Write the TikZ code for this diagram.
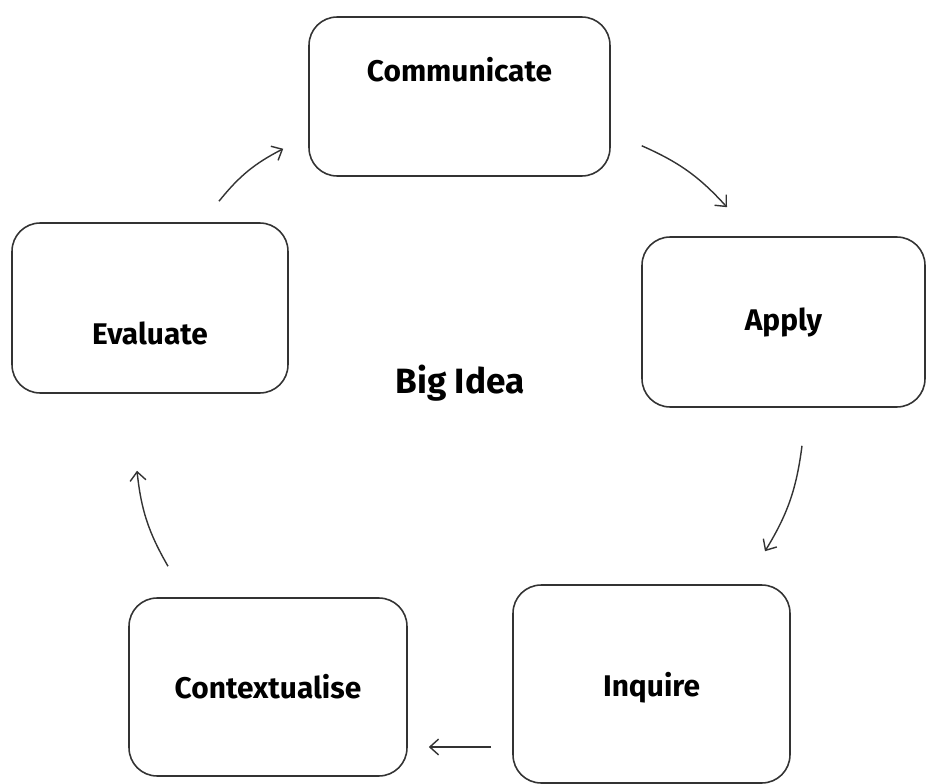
\documentclass[tikz,border=0pt]{standalone}
\usepackage{fontspec}
\setmainfont{Fira Sans}
\usetikzlibrary{arrows.meta}
\usetikzlibrary{calc}

\begin{document}
\begin{tikzpicture}
	[x=0.02cm, y=-0.02cm,
	 every node/.style={font=\fontsize{17}{20}\selectfont\bfseries},
	 stage/.style={draw=black!80, line width=0.9pt, rounded corners=16pt, inner sep=0pt},
	 flow/.style={draw=black!80, line width=0.8pt, -{Straight Barb[length=5pt,width=9pt]}}]
	\useasboundingbox (0,0) rectangle (927,784);

	% the five stages
	\node[stage, minimum width=6.02cm, minimum height=3.18cm,
	      label={[yshift=0.53cm]center:Communicate}] (comm) at (459.5,96.5) {};
	\node[stage, minimum width=5.66cm, minimum height=3.40cm,
	      label={center:Apply}] (apply) at (783.5,322) {};
	\node[stage, minimum width=5.54cm, minimum height=3.96cm,
	      label={[yshift=-0.08cm]center:Inquire}] (inq) at (651.5,684) {};
	\node[stage, minimum width=5.56cm, minimum height=3.56cm,
	      label={center:Contextualise}] (ctx) at (268,687) {};
	\node[stage, minimum width=5.52cm, minimum height=3.40cm,
	      label={[yshift=-0.51cm]center:Evaluate}] (eval) at (150,308) {};

	\node[font=\fontsize{20}{24}\selectfont\bfseries] (idea) at (460,383) {Big Idea};

	% the cycle
	\draw[flow] ([shift={(69,-21)}]eval.north) to[bend left=12] ([shift={(-25,-28)}]comm.south west);
	\draw[flow] ([shift={(31,-31)}]comm.south east) to[bend left=12] ([shift={(-56.5,-29)}]apply.north);
	\draw[flow] ([shift={(18.5,38)}]apply.south) to[bend left=12] ([shift={(113.5,-33)}]inq.north);
	\draw[flow] ([shift={(-21,63)}]inq.west) -- ([shift={(21,60)}]ctx.east);
	\draw[flow] ([shift={(-100,-31)}]ctx.north) to[bend left=12] ([shift={(-13,77)}]eval.south);
\end{tikzpicture}
\end{document}
